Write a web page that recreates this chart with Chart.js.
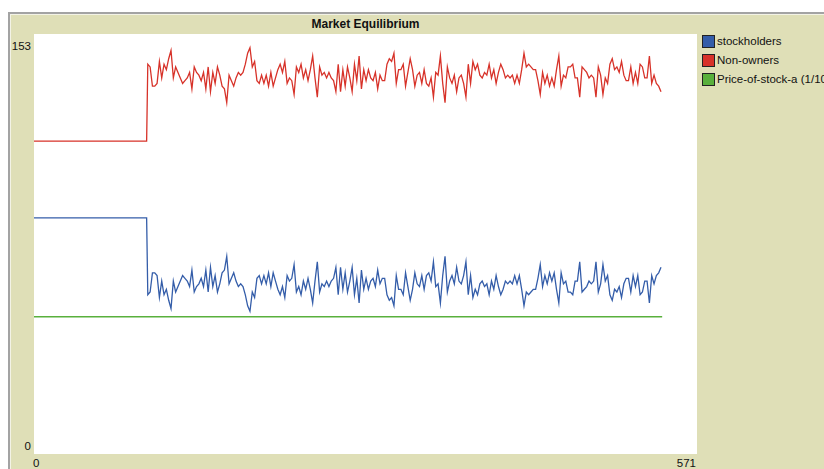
<!DOCTYPE html>
<html>
<head>
<meta charset="utf-8">
<script src="https://cdn.jsdelivr.net/npm/chart.js@4"></script>
<style>
  html, body { margin: 0; padding: 0; background: #fff; width: 824px; height: 469px; overflow: hidden; }
  body { position: relative; font-family: "Liberation Sans", Arial, sans-serif; font-size: 11.5px; color: #111; }
  #widget {
    position: absolute; left: 8px; top: 12px; width: 830px; height: 470px;
    background: #dfdfb7; border-top: 2px solid #a3a3a3; border-left: 2px solid #a3a3a3;
    box-shadow: inset 1px 1px 0 #f3f3e6;
  }
  #plot { position: absolute; left: 34px; top: 34px; background: #fff; }
  .lbl { position: absolute; line-height: 14px; white-space: nowrap; }
  #title { left: 34px; width: 663px; top: 17px; text-align: center; font-weight: bold; font-size: 12px; }
  .leg { position: absolute; left: 702px; height: 13px; white-space: nowrap; }
  .leg i { position: absolute; left: 0; top: 0; width: 11px; height: 11px; border: 1px solid #222; }
  .leg span { position: absolute; left: 15px; top: -1px; line-height: 14px; }
</style>
</head>
<body>
<div id="widget"></div>
<div class="lbl" id="title">Market Equilibrium</div>
<div class="lbl" id="yMax" style="left:0; width:31px; text-align:right; top:39px;"></div>
<div class="lbl" id="yMin" style="left:0; width:31px; text-align:right; top:439px;"></div>
<div class="lbl" id="xMin" style="left:33px; top:456px;"></div>
<div class="lbl" id="xMax" style="left:600px; width:96px; text-align:right; top:456px;"></div>
<div id="legend"></div>
<canvas id="plot" width="663" height="420"></canvas>

<script>
/* ── data ─────────────────────────────────────────────────────── */
const seriesNames  = ['stockholders', 'Non-owners', 'Price-of-stock-a (1/10)'];
const seriesColors = ['#345da9', '#d73229', '#59b03c'];

const xTickLabels = [0, 571];
const yTickLabels = [0, 153];

// before the market opens both groups sit flat
const flatTicks        = [0, 97];
const stockholdersFlat = [86, 86];
const nonOwnersFlat    = [114, 114];

// after tick 98, one reading every 2 ticks
const noiseStartTick = 98;
const noiseStepTicks = 2;

const stockholders = [
  58,59,66,66,65,57,63,58,60,56,53,63,59,61,63,65,64,63,61,67,59,61,62,64,61,67,59,68,61,65,59,62,66,67,72,62,64,66,63,61,62,61,58,54,52,59,57,64,65,62,65,62,66,61,
  66,63,60,58,61,57,65,63,64,69,59,61,58,63,60,64,60,55,63,70,59,62,61,63,61,63,64,68,58,68,60,66,59,63,68,58,64,55,67,60,64,60,63,64,61,67,62,64,64,58,56,57,54,65,60,
  60,58,66,61,56,60,66,62,61,65,60,65,66,63,70,61,62,55,65,72,59,63,65,62,68,63,62,65,70,58,65,57,60,58,62,63,61,62,58,63,60,65,61,58,60,63,62,63,62,65,62,65,60,54,59,
  58,59,60,60,64,69,61,65,62,66,63,66,60,55,66,62,63,59,59,58,63,63,70,59,60,61,63,62,63,70,59,62,69,63,65,58,56,60,59,61,57,62,64,64,59,65,61,65,58,59,63,63,55,65,62,65,66,68
];

const nonOwners = [
  142,141,134,134,135,143,137,142,140,144,147,137,141,139,137,135,136,137,139,133,141,139,138,136,139,133,141,132,139,135,141,138,134,133,128,138,136,134,137,139,138,139,142,146,148,141,143,136,135,138,135,138,134,139,
  134,137,140,142,139,143,135,137,136,131,141,139,142,137,140,136,140,145,137,130,141,138,139,137,139,137,136,132,142,132,140,134,141,137,132,142,136,145,133,140,136,140,137,136,139,133,138,136,136,142,144,143,146,135,140,
  140,142,134,139,144,140,134,138,139,135,140,135,134,137,130,139,138,145,135,128,141,137,135,138,132,137,138,135,130,142,135,143,140,142,138,137,139,138,142,137,140,135,139,142,140,137,138,137,138,135,138,135,140,146,141,
  142,141,140,140,136,131,139,135,138,134,137,134,140,145,134,138,137,141,141,142,137,137,130,141,140,139,137,138,137,130,141,138,131,137,135,142,144,140,141,139,143,138,136,136,141,135,139,135,142,141,137,137,145,135,138,135,134,132
];

const priceTicks  = [0, 541];
const priceValues = [50, 50];

/* ── helpers ──────────────────────────────────────────────────── */
function el(id) { return document.getElementById(id); }
function pairPoints(ticks, vals) { return vals.map((v, i) => ({ x: ticks[i], y: v })); }
function noisePoints(vals) { return vals.map((v, i) => ({ x: noiseStartTick + i * noiseStepTicks, y: v })); }

function lineSet(label, color, data) {
  return {
    label, data,
    borderColor: color,
    borderWidth: 1.3,
    pointRadius: 0,
    tension: 0,
    fill: false
  };
}

/* ── axis labels + legend (NetLogo style) ─────────────────────── */
el('yMax').textContent = yTickLabels[1];
el('yMin').textContent = yTickLabels[0];
el('xMin').textContent = xTickLabels[0];
el('xMax').textContent = xTickLabels[1];

const legendTops = [35, 54, 73];
el('legend').innerHTML = seriesNames.map((n, i) =>
  `<div class="leg" style="top:${legendTops[i]}px"><i style="background:${seriesColors[i]}"></i><span>${n}</span></div>`
).join('');

/* ── chart ────────────────────────────────────────────────────── */
new Chart(el('plot').getContext('2d'), {
  type: 'line',
  data: {
    datasets: [
      lineSet(seriesNames[0], seriesColors[0],
        pairPoints(flatTicks, stockholdersFlat).concat(noisePoints(stockholders))),
      lineSet(seriesNames[1], seriesColors[1],
        pairPoints(flatTicks, nonOwnersFlat).concat(noisePoints(nonOwners))),
      lineSet(seriesNames[2], seriesColors[2], pairPoints(priceTicks, priceValues))
    ]
  },
  options: {
    responsive: false,
    animation: false,
    layout: { padding: 0 },
    plugins: { legend: { display: false }, tooltip: { enabled: false } },
    scales: {
      x: { type: 'linear', min: xTickLabels[0], max: xTickLabels[1], display: false },
      y: { type: 'linear', min: yTickLabels[0], max: yTickLabels[1], display: false }
    }
  }
});
</script>
</body>
</html>
